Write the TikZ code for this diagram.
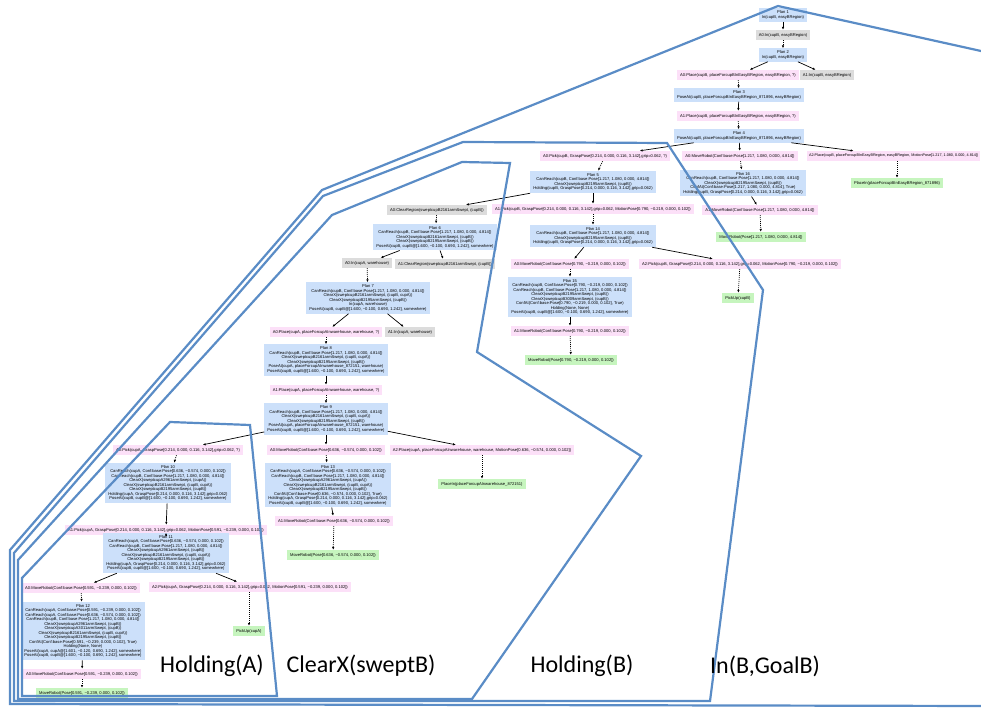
\documentclass[tikz,border=0pt]{standalone}
\usepackage{fontspec}
\setmainfont{Liberation Sans}
\newfontfamily\labelfont{Carlito}
\usetikzlibrary{arrows.meta}

\definecolor{planblue}{HTML}{CCE0FA}
\definecolor{actpink}{HTML}{FCE0F8}
\definecolor{actgray}{HTML}{DCDCDC}
\definecolor{goalgreen}{HTML}{C6F5BE}
\definecolor{regionblue}{HTML}{5A8CC6}

\begin{document}
\begin{tikzpicture}[x=1pt,y=-1pt,
  box/.style={inner xsep=3pt, inner ysep=2.4pt, minimum height=10pt, align=center,
              font=\fontsize{4.1}{4.5}\selectfont},
  plan/.style={box, fill=planblue},
  act/.style={box, fill=actpink},
  fact/.style={box, fill=actgray},
  done/.style={box, fill=goalgreen},
  expand/.style={-{Latex[length=2.8pt,width=2.4pt]}, line width=0.7pt},
  follow/.style={-{Latex[length=2.8pt,width=2.4pt]}, line width=0.7pt, dash pattern=on 1pt off 1pt},
  region/.style={draw=regionblue, line width=2.2pt, line join=miter},
  tag/.style={font=\labelfont\fontsize{24}{28}\selectfont, inner sep=0pt}
]
\useasboundingbox (0,0) rectangle (981,708);

% ---------- goal In(cupB, easyBRegion) ----------
\node[plan] (p1) at (783,15) {Plan 1\\In(cupB, easyBRegion)};
\node[fact] (f1) at (783,35) {A0:In(cupB, easyBRegion)};
\node[plan] (p2) at (783,55) {Plan 2\\In(cupB, easyBRegion)};
\node[act]  (a2a) at (738,75) {A0:Place(cupB, placeForcupBInEasyBRegion, easyBRegion, ?)};
\node[fact] (a2b) at (827,75) {A1:In(cupB, easyBRegion)};
\node[plan] (p3) at (739,95) {Plan 3\\PoseAt(cupB, placeForcupBInEasyBRegion\_871896, easyBRegion)};
\node[act]  (a3) at (738,116) {A1:Place(cupB, placeForcupBInEasyBRegion, easyBRegion, ?)};
\node[plan] (p4) at (739,136) {Plan 4\\PoseAt(cupB, placeForcupBInEasyBRegion\_871896, easyBRegion)};
\node[act]  (a4a) at (605,156) {A0:Pick(cupB, GraspPose[0.214, 0.000, 0.116, 3.142],grip=0.062, ?)};
\node[act]  (a4b) at (740,156) {A0:MoveRobot(Conf:base:Pose[1.217, 1.080, 0.000, 4.814])};
\node[act, anchor=east, inner xsep=2pt, font=\fontsize{3.75}{4.5}\selectfont] (a4c) at (980.5,156) {A2:Place(cupB, placeForcupBInEasyBRegion, easyBRegion, MotionPose[1.217, 1.080, 0.000, 4.814])};
\node[done] (g4) at (897,183) {PlaceIn(placeForcupBInEasyBRegion\_871896)};

% ---------- holding cupB ----------
\node[plan] (p5) at (593,182) {Plan 5\\CanReach(cupB, Conf:base:Pose[1.217, 1.080, 0.000, 4.814])\\ClearX(sweptcupB2195armSwept, (cupB))\\Holding(cupB, GraspPose[0.214, 0.000, 0.116, 3.142],grip=0.062)};
\node[plan] (p16) at (743,183) {Plan 16\\CanReach(cupB, Conf:base:Pose[1.217, 1.080, 0.000, 4.814])\\ClearX(sweptcupB2195armSwept, (cupB))\\ConfAt(Conf:base:Pose[1.217, 1.080, 0.000, 4.814], True)\\Holding(cupB, GraspPose[0.214, 0.000, 0.116, 3.142],grip=0.062)};
\node[fact] (a5a) at (437,210) {A0:ClearRegion(sweptcupB2161armSwept, (cupB))};
\node[act]  (a5b) at (593,209) {A1:Pick(cupB, GraspPose[0.214, 0.000, 0.116, 3.142],grip=0.062, MotionPose[0.790, −0.219, 0.000, 0.102])};
\node[act]  (a16) at (760,210) {A1:MoveRobot(Conf:base:Pose[1.217, 1.080, 0.000, 4.814])};
\node[done] (g16) at (761,237) {MoveRobot(Pose[1.217, 1.080, 0.000, 4.814])};
\node[plan] (p14) at (593,236) {Plan 14\\CanReach(cupB, Conf:base:Pose[1.217, 1.080, 0.000, 4.814])\\ClearX(sweptcupB2195armSwept, (cupB))\\Holding(cupB, GraspPose[0.214, 0.000, 0.116, 3.142],grip=0.062)};
\node[act]  (a14a) at (570,264) {A0:MoveRobot(Conf:base:Pose[0.790, −0.219, 0.000, 0.102])};
\node[act]  (a14b) at (740,264) {A2:Pick(cupB, GraspPose[0.214, 0.000, 0.116, 3.142],grip=0.062, MotionPose[0.790, −0.219, 0.000, 0.102])};
\node[done] (g14) at (738,298) {PickUp(cupB)};
\node[plan] (p15) at (570,297) {Plan 15\\CanReach(cupB, Conf:base:Pose[0.790, −0.219, 0.000, 0.102])\\CanReach(cupB, Conf:base:Pose[1.217, 1.080, 0.000, 4.814])\\ClearX(sweptcupB2195armSwept, (cupB))\\ClearX(sweptcupB3009armSwept, (cupB))\\ConfAt(Conf:base:Pose[0.790, −0.219, 0.000, 0.102], True)\\Holding(None, None)\\PoseAt(cupB, cupB@[1.600, −0.100, 0.690, 1.242], somewhere)};
\node[act]  (a15) at (570,331) {A1:MoveRobot(Conf:base:Pose[0.790, −0.219, 0.000, 0.102])};
\node[done] (g15) at (571,360) {MoveRobot(Pose[0.790, −0.219, 0.000, 0.102])};

% ---------- clearing the swept region of cupB ----------
\node[plan] (p6) at (435,237) {Plan 6\\CanReach(cupB, Conf:base:Pose[1.217, 1.080, 0.000, 4.814])\\ClearX(sweptcupB2161armSwept, (cupB))\\ClearX(sweptcupB2195armSwept, (cupB))\\PoseAt(cupB, cupB@[1.600, −0.100, 0.690, 1.242], somewhere)};
\node[fact] (a6a) at (367,263) {A0:In(cupA, warehouse)};
\node[fact] (a6b) at (445,264) {A1:ClearRegion(sweptcupB2161armSwept, (cupB))};
\node[plan] (p7) at (368,298) {Plan 7\\CanReach(cupB, Conf:base:Pose[1.217, 1.080, 0.000, 4.814])\\ClearX(sweptcupB2161armSwept, (cupB, cupA))\\ClearX(sweptcupB2195armSwept, (cupB))\\In(cupA, warehouse)\\PoseAt(cupB, cupB@[1.600, −0.100, 0.690, 1.242], somewhere)};
\node[act]  (a7a) at (326,332) {A0:Place(cupA, placeForcupAInwarehouse, warehouse, ?)};
\node[fact] (a7b) at (410,332) {A1:In(cupA, warehouse)};
\node[plan] (p8) at (326,360) {Plan 8\\CanReach(cupB, Conf:base:Pose[1.217, 1.080, 0.000, 4.814])\\ClearX(sweptcupB2161armSwept, (cupB, cupA))\\ClearX(sweptcupB2195armSwept, (cupB))\\PoseAt(cupA, placeForcupAInwarehouse\_872151, warehouse)\\PoseAt(cupB, cupB@[1.600, −0.100, 0.690, 1.242], somewhere)};
\node[act]  (a8) at (326,390) {A1:Place(cupA, placeForcupAInwarehouse, warehouse, ?)};
\node[plan] (p9) at (326,419) {Plan 9\\CanReach(cupB, Conf:base:Pose[1.217, 1.080, 0.000, 4.814])\\ClearX(sweptcupB2161armSwept, (cupB, cupA))\\ClearX(sweptcupB2195armSwept, (cupB))\\PoseAt(cupA, placeForcupAInwarehouse\_872151, warehouse)\\PoseAt(cupB, cupB@[1.600, −0.100, 0.690, 1.242], somewhere)};
\node[act]  (a9a) at (178,450) {A0:Pick(cupA, GraspPose[0.214, 0.000, 0.116, 3.142],grip=0.062, ?)};
\node[act]  (a9b) at (326,450) {A0:MoveRobot(Conf:base:Pose[0.636, −0.574, 0.000, 0.102])};
\node[act]  (a9c) at (482,450) {A2:Place(cupA, placeForcupAInwarehouse, warehouse, MotionPose[0.636, −0.574, 0.000, 0.102])};
\node[done] (g9) at (482,484) {PlaceIn(placeForcupAInwarehouse\_872151)};
\node[plan] (p13) at (328,485) {Plan 13\\CanReach(cupA, Conf:base:Pose[0.636, −0.574, 0.000, 0.102])\\CanReach(cupB, Conf:base:Pose[1.217, 1.080, 0.000, 4.814])\\ClearX(sweptcupA2961armSwept, (cupA))\\ClearX(sweptcupB2161armSwept, (cupB, cupA))\\ClearX(sweptcupB2195armSwept, (cupB))\\ConfAt(Conf:base:Pose[0.636, −0.574, 0.000, 0.102], True)\\Holding(cupA, GraspPose[0.214, 0.000, 0.116, 3.142],grip=0.062)\\PoseAt(cupB, cupB@[1.600, −0.100, 0.690, 1.242], somewhere)};
\node[act]  (a13) at (334,521) {A1:MoveRobot(Conf:base:Pose[0.636, −0.574, 0.000, 0.102])};
\node[done] (g13) at (333,555) {MoveRobot(Pose[0.636, −0.574, 0.000, 0.102])};

% ---------- holding cupA ----------
\node[plan] (p10) at (168,483) {Plan 10\\CanReach(cupA, Conf:base:Pose[0.636, −0.574, 0.000, 0.102])\\CanReach(cupB, Conf:base:Pose[1.217, 1.080, 0.000, 4.814])\\ClearX(sweptcupA2961armSwept, (cupA))\\ClearX(sweptcupB2161armSwept, (cupB, cupA))\\ClearX(sweptcupB2195armSwept, (cupB))\\Holding(cupA, GraspPose[0.214, 0.000, 0.116, 3.142],grip=0.062)\\PoseAt(cupB, cupB@[1.600, −0.100, 0.690, 1.242], somewhere)};
\node[act]  (a10) at (166,530) {A1:Pick(cupA, GraspPose[0.214, 0.000, 0.116, 3.142],grip=0.062, MotionPose[0.591, −0.239, 0.000, 0.102])};
\node[plan] (p11) at (166,553) {Plan 11\\CanReach(cupA, Conf:base:Pose[0.636, −0.574, 0.000, 0.102])\\CanReach(cupB, Conf:base:Pose[1.217, 1.080, 0.000, 4.814])\\ClearX(sweptcupA2961armSwept, (cupB))\\ClearX(sweptcupB2161armSwept, (cupB, cupA))\\ClearX(sweptcupB2195armSwept, (cupB))\\Holding(cupA, GraspPose[0.214, 0.000, 0.116, 3.142],grip=0.062)\\PoseAt(cupB, cupB@[1.600, −0.100, 0.690, 1.242], somewhere)};
\node[act]  (a11a) at (81,588) {A0:MoveRobot(Conf:base:Pose[0.591, −0.239, 0.000, 0.102])};
\node[act]  (a11b) at (250,587) {A2:Pick(cupA, GraspPose[0.214, 0.000, 0.116, 3.142],grip=0.062, MotionPose[0.591, −0.239, 0.000, 0.102])};
\node[done] (g11) at (249,631) {PickUp(cupA)};
\node[plan, minimum height=58pt] (p12) at (83,631) {Plan 12\\CanReach(cupA, Conf:base:Pose[0.591, −0.239, 0.000, 0.102])\\CanReach(cupA, Conf:base:Pose[0.636, −0.574, 0.000, 0.102])\\CanReach(cupB, Conf:base:Pose[1.217, 1.080, 0.000, 4.814])\\ClearX(sweptcupA2961armSwept, (cupB))\\ClearX(sweptcupA3011armSwept, (cupB))\\ClearX(sweptcupB2161armSwept, (cupB, cupA))\\ClearX(sweptcupB2195armSwept, (cupB))\\ConfAt(Conf:base:Pose[0.591, −0.239, 0.000, 0.102], True)\\Holding(None, None)\\PoseAt(cupA, cupA@[1.601, −0.120, 0.690, 1.242], somewhere)\\PoseAt(cupB, cupB@[1.600, −0.100, 0.690, 1.242], somewhere)};
\node[act]  (a12) at (82,674) {A0:MoveRobot(Conf:base:Pose[0.591, −0.239, 0.000, 0.102])};
\node[done] (g12) at (82,693) {MoveRobot(Pose[0.591, −0.239, 0.000, 0.102])};

% ---------- expansions (plan -> action) ----------
\draw[expand] (p1) -- (f1);
\draw[expand] (p2) -- (a2a);
\draw[expand] (p2) -- (a2b);
\draw[expand] (p3) -- (a3);
\draw[expand] (p4) -- (a4a);
\draw[expand] (p4) -- (a4b);
\draw[expand] (p4) -- (a4c);
\draw[expand] (p5) -- (a5a);
\draw[expand] (p5) -- (a5b);
\draw[expand] (p16) -- (a16);
\draw[expand] (p14) -- (a14a);
\draw[expand] (p14) -- (a14b);
\draw[expand] (p15) -- (a15);
\draw[expand] (p6) -- (a6a);
\draw[expand] (p6) -- (a6b);
\draw[expand] (p7) -- (a7a);
\draw[expand] (p7) -- (a7b);
\draw[expand] (p8) -- (a8);
\draw[expand] (p9) -- (a9a);
\draw[expand] (p9) -- (a9b);
\draw[expand] (p9) -- (a9c);
\draw[expand] (p13) -- (a13);
\draw[expand] (p10) -- (a10);
\draw[expand] (p11) -- (a11a);
\draw[expand] (p11) -- (a11b);
\draw[expand] (p12) -- (a12);

% ---------- results (action -> plan) ----------
\draw[follow] (f1) -- (p2);
\draw[follow] (a2a) -- (p3);
\draw[follow] (a3) -- (p4);
\draw[follow] (a4a) -- (p5);
\draw[follow] (a4b) -- (p16);
\draw[follow] (a4c.south -| g4.north) -- (g4);
\draw[follow] (a16) -- (g16);
\draw[follow] (a5b) -- (p14);
\draw[follow] (a14a) -- (p15);
\draw[follow] (a14b) -- (g14);
\draw[follow] (a15) -- (g15);
\draw[follow] (a5a) -- (p6);
\draw[follow] (a6a) -- (p7);
\draw[follow] (a7a) -- (p8);
\draw[follow] (a8) -- (p9);
\draw[follow] (a9a) -- (p10);
\draw[follow] (a9b) -- (p13);
\draw[follow] (a9c) -- (g9);
\draw[follow] (a13) -- (g13);
\draw[follow] (a10) -- (p11);
\draw[follow] (a11a) -- (p12);
\draw[follow] (a11b.south -| g11.north) -- (g11);
\draw[follow] (a12) -- (g12);

% ---------- subgoal regions ----------
\draw[region] (990,53) -- (778,6) -- (322,190) -- (10,550) -- (10,704) -- (990,706);
\draw[region] (763,290) -- (667,143) -- (463,142) -- (323,196) -- (14,553) -- (14,701) -- (710,701) -- cycle;
\draw[region] (510,163) -- (462,162) -- (332,215) -- (18,560) -- (18,699) -- (472,699) -- (641,456) -- (477,352) -- cycle;
\draw[region] (170,422) -- (250,425) -- (277,696) -- (22,696) -- (22,578) -- cycle;

\node[tag] (lA) at (212,666) {Holding(A)};
\node[tag] (lC) at (361,666) {ClearX(sweptB)};
\node[tag] (lB) at (582,666) {Holding(B)};
\node[tag] (lG) at (765,666) {In(B,GoalB)};
\end{tikzpicture}
\end{document}
